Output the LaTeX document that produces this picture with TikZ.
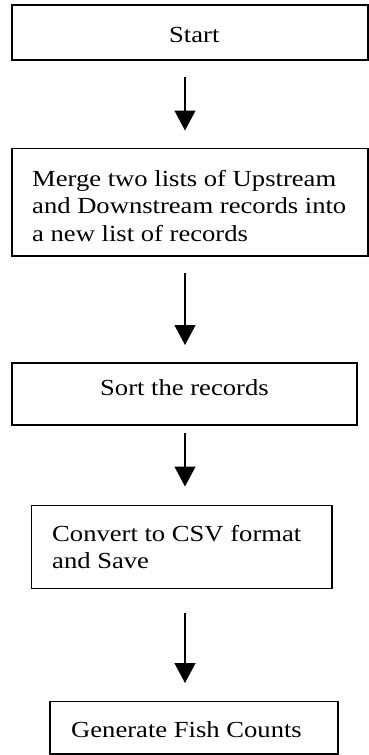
\documentclass[tikz,border=0pt]{standalone}
\usepackage{fontspec}
\setmainfont{Liberation Serif}[FakeStretch=1.157]
\usetikzlibrary{arrows.meta}

\begin{document}
\begin{tikzpicture}[x=1pt, y=-1pt,
  box/.style={draw=black, line width=1.8pt, rectangle, inner sep=0pt, outer sep=0pt},
  label text/.style={anchor=base west, inner sep=0pt, font=\fontsize{23}{27.5}\selectfont},
  flow arrow/.style={line width=1.4pt, -{Triangle[length=20pt, width=21pt]}}
]
\useasboundingbox (0,0) rectangle (369,755);

% process boxes
\node[box, minimum width=356pt, minimum height=55pt]    (start)   at (190, 32.5)    {};
\node[box, minimum width=356pt, minimum height=107.5pt] (merge)   at (190, 202.25)  {};
\node[box, minimum width=345pt, minimum height=62pt]    (sort)    at (184.5, 394)   {};
\node[box, minimum width=300.5pt, minimum height=83pt]  (convert) at (181.75, 547)  {};
\node[box, minimum width=288pt, minimum height=52.5pt]  (gen)     at (194, 727.75)  {};

% box texts
\node[label text] (tstart) at (169, 42)  {Start};
\node[label text] (tmerge1) at (32, 186) {Merge two lists of Upstream};
\node[label text] (tmerge2) at (32, 213.5) {and Downstream records into};
\node[label text] (tmerge3) at (32, 241) {a new list of records};
\node[label text] (tsort) at (100, 395) {Sort the records};
\node[label text] (tconv1) at (52, 541) {Convert to CSV format};
\node[label text] (tconv2) at (52, 568.5) {and Save};
\node[label text] (tgen) at (71, 737) {Generate Fish Counts};

% connectors
\draw[flow arrow, shorten <=17pt, shorten >=18pt]
  (start.south -| 185,0) -- (merge.north -| 185,0);
\draw[flow arrow, shorten <=17pt, shorten >=18pt]
  (merge.south -| 185,0) -- (sort.north -| 185,0);
\draw[flow arrow, shorten <=8pt, shorten >=19pt]
  (sort.south -| 185,0) -- (convert.north -| 185,0);
\draw[flow arrow, shorten <=24pt, shorten >=18.5pt]
  (convert.south -| 185,0) -- (gen.north -| 185,0);
\end{tikzpicture}
\end{document}
